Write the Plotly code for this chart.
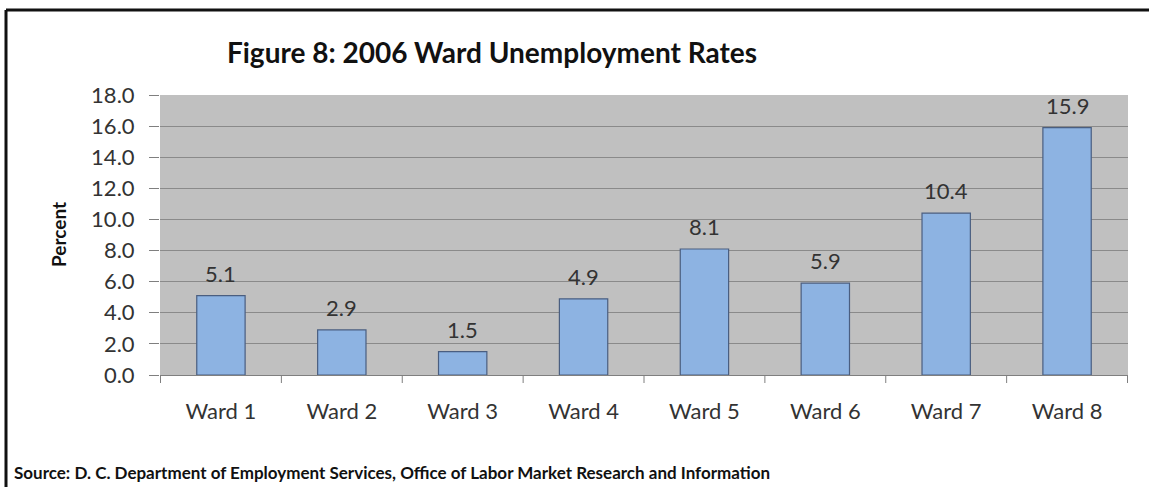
import plotly.graph_objects as go

wards = ["Ward 1", "Ward 2", "Ward 3", "Ward 4", "Ward 5", "Ward 6", "Ward 7", "Ward 8"]
rates = [5.1, 2.9, 1.5, 4.9, 8.1, 5.9, 10.4, 15.9]
y_ticks = [0, 2, 4, 6, 8, 10, 12, 14, 16, 18]

FONT = "Lato"
PLOT_W, PLOT_H = 968, 280
L, T = 160, 95


def px_x(px):
    return (px - L) / PLOT_W


def px_y(py):
    return (T + PLOT_H - py) / PLOT_H


fig = go.Figure(
    go.Bar(
        x=wards,
        y=rates,
        marker=dict(color="#8db3e2", line=dict(color="#4a5e80", width=1.2)),
        hoverinfo="x+y",
    )
)

# value labels above each bar
for w, v in zip(wards, rates):
    fig.add_annotation(
        x=w,
        y=v,
        text=f"{v:.1f}",
        showarrow=False,
        yanchor="bottom",
        yshift=7,
        font=dict(family=FONT, size=22, color="#333333"),
    )

fig.update_layout(
    width=1149,
    height=487,
    margin=dict(l=L, r=1149 - L - PLOT_W, t=T, b=487 - T - PLOT_H),
    paper_bgcolor="white",
    plot_bgcolor="#c0c0c0",
    bargap=0.6,
    showlegend=False,
    font=dict(family=FONT, color="#333333"),
    title=dict(
        text="<b>Figure 8: 2006 Ward Unemployment Rates</b>",
        x=492 / 1149,
        xanchor="center",
        y=1 - 53 / 487,
        yanchor="middle",
        font=dict(family=FONT, size=28, color="#111111"),
    ),
    xaxis=dict(
        showgrid=False,
        showline=True,
        linecolor="#7f7f7f",
        linewidth=1,
        ticks="",
        tickfont=dict(family=FONT, size=22, color="#333333"),
        ticklabelstandoff=17,
    ),
    yaxis=dict(
        range=[0, 18],
        tickvals=y_ticks,
        ticktext=[f"{v:.1f}" for v in y_ticks],
        tickfont=dict(family=FONT, size=22, color="#333333"),
        showgrid=True,
        gridcolor="#8a8a8a",
        gridwidth=1,
        zeroline=False,
        ticks="outside",
        ticklen=10,
        tickcolor="#7f7f7f",
        showline=False,
        ticklabelstandoff=10,
    ),
)

# axis title
fig.add_annotation(
    text="<b>Percent</b>",
    xref="paper",
    yref="paper",
    x=px_x(58),
    xanchor="center",
    y=0.5,
    yanchor="middle",
    textangle=-90,
    showarrow=False,
    font=dict(family=FONT, size=19, color="#111111"),
)

# category boundary tick marks below the axis
for i in range(len(wards) + 1):
    fig.add_shape(
        type="line",
        xref="x",
        yref="paper",
        x0=i - 0.5,
        x1=i - 0.5,
        y0=0,
        y1=-8 / PLOT_H,
        line=dict(color="#7f7f7f", width=1),
    )

# outer frame (top and left edges)
fig.add_shape(
    type="line", xref="paper", yref="paper",
    x0=px_x(6), x1=px_x(1149), y0=px_y(10), y1=px_y(10),
    line=dict(color="#111111", width=3),
)
fig.add_shape(
    type="line", xref="paper", yref="paper",
    x0=px_x(6), x1=px_x(6), y0=px_y(10), y1=px_y(487),
    line=dict(color="#111111", width=3),
)

fig.add_annotation(
    text="<b>Source: D. C. Department of Employment Services, Office of Labor Market Research and Information</b>",
    xref="paper",
    yref="paper",
    x=px_x(12),
    xanchor="left",
    y=px_y(472),
    yanchor="middle",
    showarrow=False,
    font=dict(family=FONT, size=17, color="#111111"),
)

fig.write_html("out.html")
